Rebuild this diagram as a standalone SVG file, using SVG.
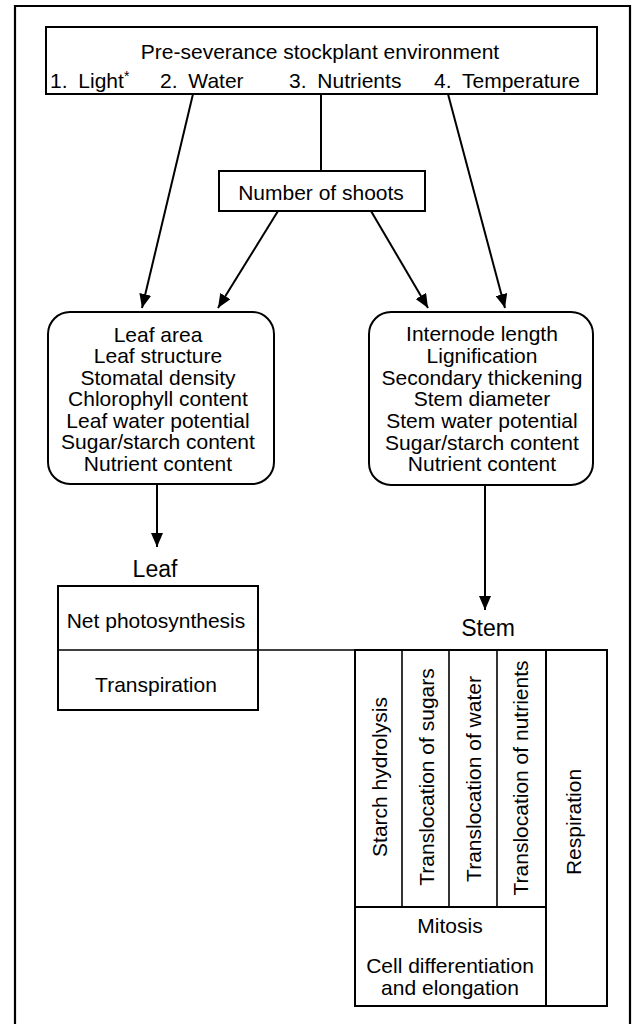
<svg xmlns="http://www.w3.org/2000/svg" width="636" height="1024" viewBox="0 0 636 1024">
<style>
text{font-family:"Liberation Sans",Arial,sans-serif;font-size:21px;fill:#000}
.c{text-anchor:middle}
.big{font-size:23px}
.box{fill:#fff;stroke:#000;stroke-width:2}
.ln{fill:none;stroke:#000;stroke-width:2}
.thin{fill:none;stroke:#000;stroke-width:1.6}
</style>
<defs>
<marker id="ah" viewBox="0 0 14 12" refX="14" refY="6" markerUnits="userSpaceOnUse" markerWidth="14" markerHeight="12" orient="auto">
<path d="M0,0 L14,6 L0,12 z" fill="#000"/>
</marker>
</defs>
<rect width="636" height="1024" fill="#fff"/>
<path id="frame" d="M15,1030 V6 H630 V1030" fill="none" stroke="#000" stroke-width="2.2"/>

<g id="connectors">
<line class="ln" x1="321" y1="94" x2="321" y2="171"/>
<line class="ln" x1="193" y1="94" x2="142" y2="308" marker-end="url(#ah)"/>
<line class="ln" x1="448" y1="94" x2="505" y2="308" marker-end="url(#ah)"/>
<line class="ln" x1="278" y1="211" x2="218" y2="308" marker-end="url(#ah)"/>
<line class="ln" x1="371" y1="211" x2="428" y2="308" marker-end="url(#ah)"/>
<line class="ln" x1="157" y1="484" x2="157" y2="547" marker-end="url(#ah)"/>
<line class="ln" x1="485" y1="485" x2="485" y2="610" marker-end="url(#ah)"/>
<line class="thin" x1="258" y1="650" x2="355" y2="650"/>
</g>

<g id="environment">
<rect class="box" x="46" y="27" width="551" height="67"/>
<text class="c" x="320" y="59">Pre-severance stockplant environment</text>
<text x="50" y="88" word-spacing="5">1. Light<tspan font-size="14" dy="-7">*</tspan></text>
<text x="160" y="88" word-spacing="5">2. Water</text>
<text x="289" y="88" word-spacing="5">3. Nutrients</text>
<text x="434" y="88" word-spacing="5">4. Temperature</text>
</g>

<g id="shoots">
<rect class="box" x="219" y="171" width="206" height="40"/>
<text class="c" x="321" y="200">Number of shoots</text>
</g>

<g id="leaf-traits">
<rect class="box" x="48" y="312" width="226" height="172" rx="22" ry="22"/>
<text class="c" x="158" y="342">Leaf area</text>
<text class="c" x="158" y="363">Leaf structure</text>
<text class="c" x="158" y="385">Stomatal density</text>
<text class="c" x="158" y="406">Chlorophyll content</text>
<text class="c" x="158" y="428">Leaf water potential</text>
<text class="c" x="158" y="449">Sugar/starch content</text>
<text class="c" x="158" y="471">Nutrient content</text>
</g>

<g id="stem-traits">
<rect class="box" x="369" y="312" width="224" height="173" rx="22" ry="22"/>
<text class="c" x="482" y="341">Internode length</text>
<text class="c" x="482" y="363">Lignification</text>
<text class="c" x="482" y="385">Secondary thickening</text>
<text class="c" x="482" y="406">Stem diameter</text>
<text class="c" x="482" y="428">Stem water potential</text>
<text class="c" x="482" y="450">Sugar/starch content</text>
<text class="c" x="482" y="471">Nutrient content</text>
</g>

<g id="leaf">
<text class="c big" x="155" y="577">Leaf</text>
<rect class="box" x="58" y="586" width="200" height="124"/>
<line class="thin" x1="58" y1="650" x2="258" y2="650"/>
<text class="c" x="156" y="628">Net photosynthesis</text>
<text class="c" x="156" y="692">Transpiration</text>
</g>

<g id="stem">
<text class="c big" x="488" y="636">Stem</text>
<rect class="box" x="355" y="650" width="252" height="356"/>
<line class="thin" x1="402" y1="650" x2="402" y2="907"/>
<line class="thin" x1="449" y1="650" x2="449" y2="907"/>
<line class="thin" x1="497" y1="650" x2="497" y2="907"/>
<line class="ln" x1="546" y1="650" x2="546" y2="1006"/>
<line class="ln" x1="355" y1="907" x2="546" y2="907"/>
<text class="c" transform="translate(387,777) rotate(-90)">Starch hydrolysis</text>
<text class="c" transform="translate(434,777) rotate(-90)">Translocation of sugars</text>
<text class="c" transform="translate(481,779) rotate(-90)">Translocation of water</text>
<text class="c" transform="translate(528,778) rotate(-90)">Translocation of nutrients</text>
<text class="c" transform="translate(581,822) rotate(-90)">Respiration</text>
<text class="c" x="450" y="933">Mitosis</text>
<text class="c" x="450" y="973">Cell differentiation</text>
<text class="c" x="450" y="995">and elongation</text>
</g>
</svg>
